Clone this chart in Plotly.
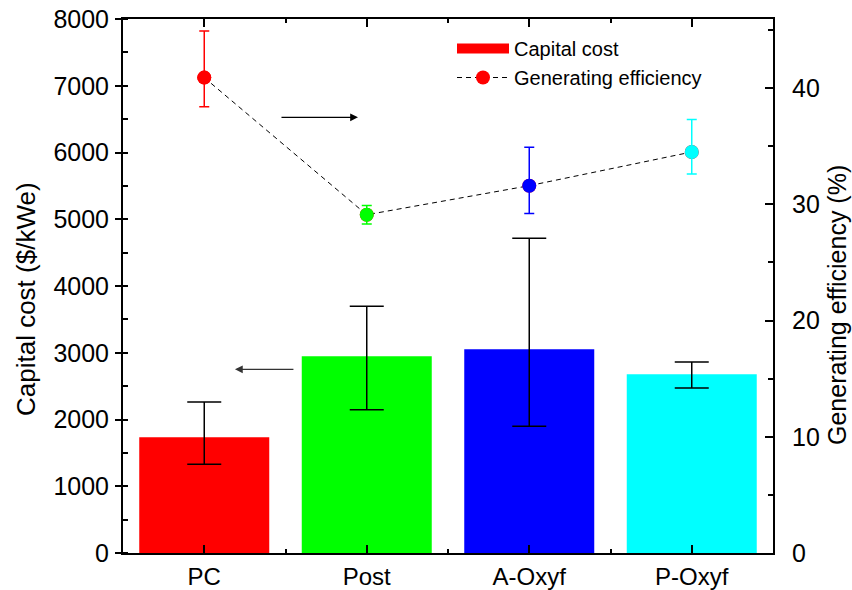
import plotly.graph_objects as go

categories = ["PC", "Post", "A-Oxyf", "P-Oxyf"]
bar_colors = ["#ff0000", "#00ff00", "#0000ff", "#00ffff"]

capital_cost = [1733, 2947, 3052, 2677]
capital_hi = [2262, 3696, 4715, 2862]
capital_lo = [1329, 2145, 1898, 2472]

efficiency = [40.9, 29.1, 31.6, 34.5]
eff_hi = [44.9, 29.9, 34.9, 37.3]
eff_lo = [38.4, 28.3, 29.2, 32.6]

xpos = list(range(len(categories)))
FONT = "Liberation Sans, Arial, sans-serif"

fig = go.Figure()

fig.add_trace(go.Bar(
    x=xpos, y=capital_cost, width=0.8, name="Capital cost",
    marker=dict(color=bar_colors, line=dict(width=0)),
    error_y=dict(type="data", symmetric=False,
                 array=[h - v for h, v in zip(capital_hi, capital_cost)],
                 arrayminus=[v - l for l, v in zip(capital_lo, capital_cost)],
                 color="black", thickness=1.5, width=17),
    yaxis="y", showlegend=False,
))
# legend swatch for the bars (wide red rectangle)
fig.add_trace(go.Scatter(
    x=[None], y=[None], mode="lines", name="Capital cost",
    line=dict(color="#ff0000", width=18), yaxis="y", showlegend=True,
))

# dashed connecting line + legend entry
fig.add_trace(go.Scatter(
    x=xpos, y=efficiency, mode="lines+markers", name="Generating efficiency",
    line=dict(color="black", width=1, dash="5px,4px"),
    marker=dict(color="#ff0000", size=14),
    yaxis="y2", showlegend=True, hoverinfo="skip",
))
# coloured points with error bars
for i in range(len(categories)):
    fig.add_trace(go.Scatter(
        x=[xpos[i]], y=[efficiency[i]], mode="markers",
        marker=dict(color=bar_colors[i], size=14),
        error_y=dict(type="data", symmetric=False,
                     array=[eff_hi[i] - efficiency[i]],
                     arrayminus=[efficiency[i] - eff_lo[i]],
                     color=bar_colors[i], thickness=1.5, width=5),
        yaxis="y2", showlegend=False,
    ))

L, R, T, B = 123, 79, 19, 37
W, H = 852, 590
pw, ph = W - L - R, H - T - B


def px(xabs):
    return (xabs - L) / pw


def py(yabs):
    return (H - B - yabs) / ph


fig.update_layout(
    width=W, height=H,
    margin=dict(l=L, r=R, t=T, b=B, autoexpand=False),
    plot_bgcolor="white", paper_bgcolor="white",
    font=dict(family=FONT, size=25, color="black"),
    showlegend=True,
    legend=dict(x=px(452), y=py(29), xanchor="left", yanchor="top",
                bgcolor="rgba(0,0,0,0)", font=dict(size=20),
                itemwidth=52, tracegroupgap=0),
    xaxis=dict(range=[-0.5, 3.5], tickvals=xpos, ticktext=categories,
               tickfont=dict(size=24), automargin=False,
               ticklabeloverflow="allow",
               showline=True, linecolor="black", linewidth=2,
               ticks="inside", ticklen=8, tickwidth=1.5, tickcolor="black",
               ticklabelstandoff=1,
               mirror="ticks", showgrid=False, zeroline=False,
               minor=dict(dtick=0.5, tick0=0.5, ticks="inside", ticklen=4,
                          tickcolor="black", tickwidth=1.5)),
    yaxis=dict(range=[0, 8000], dtick=1000, showline=True, linecolor="black",
               linewidth=2, ticks="outside", ticklen=6, tickwidth=1.5,
               tickcolor="black", showgrid=False, zeroline=False,
               automargin=False, ticklabelstandoff=1,
               ticklabeloverflow="allow",
               minor=dict(dtick=500, ticks="inside", ticklen=5,
                          tickcolor="black", tickwidth=1.5)),
    yaxis2=dict(range=[0, 45.94], dtick=10, overlaying="y", side="right",
                showline=True, linecolor="black", linewidth=2,
                ticks="inside", ticklen=8, tickwidth=1.5, tickcolor="black",
                showgrid=False, zeroline=False, automargin=False,
                ticklabelstandoff=12, ticklabeloverflow="allow",
                minor=dict(dtick=5, ticks="inside", ticklen=5,
                           tickcolor="black", tickwidth=1.5)),
    annotations=[
        dict(x=0.946, y=6527, ax=0.466, ay=6527, xref="x", yref="y",
             axref="x", ayref="y", showarrow=True, arrowhead=2,
             arrowsize=1.3, arrowwidth=1.2, arrowcolor="black", text=""),
        dict(x=0.189, y=2752, ax=0.558, ay=2752, xref="x", yref="y",
             axref="x", ayref="y", showarrow=True, arrowhead=2,
             arrowsize=1.3, arrowwidth=1.2, arrowcolor="#333333", text=""),
        dict(text="Capital cost ($/kWe)", textangle=-90, showarrow=False,
             xref="paper", yref="paper", x=px(26), y=py(299),
             xanchor="center", yanchor="middle", font=dict(size=26)),
        dict(text="Generating efficiency (%)", textangle=-90, showarrow=False,
             xref="paper", yref="paper", x=px(837), y=py(305),
             xanchor="center", yanchor="middle", font=dict(size=25)),
    ],
)

# remove the default page margin so the figure fills the 852x590 window exactly
fig.write_html("out.html",
               config={"displayModeBar": False},
               post_script="document.body.style.margin='0px';"
                           "document.body.style.overflow='hidden';")
